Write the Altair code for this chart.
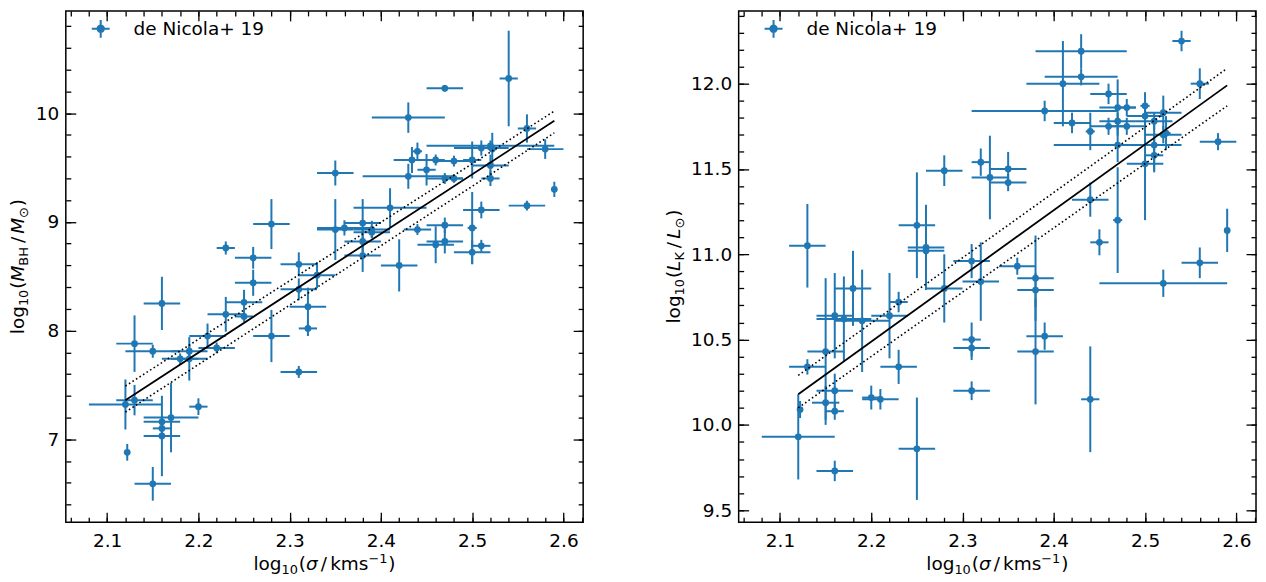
import altair as alt
import pandas as pd

BLUE = "#1f77b4"
FONT = "DejaVu Sans"
FS = 18.5
LABEL = "de Nicola+ 19"

# ---------------- data: left panel (log sigma, log M_BH) ----------------
l_x = [2.23, 2.28, 2.26, 2.31, 2.54, 2.47, 2.43, 2.56, 2.58, 2.44, 2.51, 2.52, 2.522, 2.434, 2.46,
       2.48, 2.50, 2.45, 2.52, 2.35, 2.43, 2.47, 2.48, 2.52, 2.59, 2.56, 2.51, 2.41, 2.38, 2.39,
       2.36, 2.35, 2.39, 2.44, 2.47, 2.50, 2.38, 2.47, 2.46, 2.51, 2.50, 2.38, 2.42, 2.33, 2.31,
       2.32, 2.32, 2.31, 2.28, 2.26, 2.25, 2.25, 2.23, 2.21, 2.22, 2.19, 2.18, 2.19, 2.15, 2.13,
       2.16, 2.12, 2.13, 2.20, 2.17, 2.16, 2.16, 2.16, 2.122, 2.15]
l_xerr = [0.01, 0.02, 0.02, 0.02, 0.01, 0.02, 0.04, 0.01, 0.02, 0.005, 0.03, 0.07, 0.005, 0.02, 0.01,
          0.02, 0.01, 0.01, 0.02, 0.02, 0.05, 0.02, 0.01, 0.01, 0.003, 0.02, 0.02, 0.04, 0.02, 0.02,
          0.03, 0.02, 0.02, 0.015, 0.02, 0.005, 0.02, 0.02, 0.02, 0.01, 0.02, 0.02, 0.02, 0.02, 0.02,
          0.02, 0.01, 0.02, 0.02, 0.02, 0.02, 0.01, 0.02, 0.02, 0.02, 0.02, 0.02, 0.02, 0.03, 0.02,
          0.02, 0.04, 0.02, 0.01, 0.03, 0.02, 0.01, 0.02, 0.0, 0.02]
l_y = [8.76, 8.98, 8.67, 8.61, 10.32, 10.23, 9.96, 9.86, 9.67, 9.65, 9.68, 9.70, 9.67, 9.57, 9.57,
       9.56, 9.57, 9.48, 9.52, 9.45, 9.42, 9.40, 9.40, 9.40, 9.30, 9.15, 9.11, 9.13, 8.99, 8.93,
       8.945, 8.93, 8.905, 8.93, 8.97, 8.945, 8.82, 8.82, 8.79, 8.78, 8.72, 8.69, 8.60, 8.51, 8.38,
       8.22, 8.02, 7.62, 7.95, 8.44, 8.26, 8.13, 8.15, 7.95, 7.84, 7.81, 7.74, 7.74, 7.81, 7.88,
       8.25, 7.32, 7.36, 7.30, 7.20, 7.16, 7.10, 7.03, 6.88, 6.59]
l_yerr = [0.06, 0.23, 0.10, 0.11, 0.44, 0.03, 0.14, 0.13, 0.09, 0.08, 0.07, 0.05, 0.15, 0.12, 0.05,
          0.05, 0.17, 0.145, 0.10, 0.115, 0.115, 0.05, 0.04, 0.07, 0.07, 0.045, 0.077, 0.18, 0.22, 0.08,
          0.07, 0.28, 0.05, 0.05, 0.07, 0.33, 0.10, 0.11, 0.17, 0.055, 0.11, 0.15, 0.24, 0.12, 0.10,
          0.175, 0.07, 0.055, 0.24, 0.12, 0.115, 0.05, 0.16, 0.115, 0.05, 0.06, 0.05, 0.20, 0.06, 0.26,
          0.245, 0.23, 0.14, 0.077, 0.32, 0.05, 0.05, 0.37, 0.077, 0.155]

# ---------------- data: right panel (log sigma, log L_K) ----------------
r_x = [2.13, 2.25, 2.26, 2.26, 2.28, 2.32, 2.33, 2.31, 2.54, 2.43, 2.43, 2.41, 2.56, 2.46, 2.39,
       2.47, 2.48, 2.50, 2.50, 2.52, 2.42, 2.47, 2.51, 2.44, 2.46, 2.48, 2.52, 2.523, 2.58, 2.47,
       2.51, 2.51, 2.50, 2.35, 2.35, 2.44, 2.47, 2.45, 2.59, 2.56, 2.36, 2.18, 2.16, 2.17, 2.19,
       2.22, 2.23, 2.15, 2.13, 2.23, 2.28, 2.31, 2.31, 2.32, 2.31, 2.16, 2.15, 2.16, 2.122, 2.12,
       2.20, 2.21, 2.25, 2.16, 2.38, 2.38, 2.39, 2.38, 2.44, 2.52]
r_xerr = [0.02, 0.02, 0.02, 0.02, 0.02, 0.01, 0.02, 0.02, 0.01, 0.05, 0.04, 0.04, 0.01, 0.02, 0.08,
          0.02, 0.01, 0.005, 0.02, 0.02, 0.02, 0.02, 0.02, 0.005, 0.02, 0.02, 0.02, 0.005, 0.02, 0.07,
          0.02, 0.01, 0.02, 0.02, 0.02, 0.02, 0.005, 0.01, 0.003, 0.02, 0.02, 0.02, 0.02, 0.03, 0.03,
          0.02, 0.01, 0.02, 0.02, 0.02, 0.02, 0.01, 0.02, 0.02, 0.02, 0.02, 0.015, 0.01, 0.0, 0.04,
          0.01, 0.02, 0.02, 0.02, 0.02, 0.02, 0.02, 0.02, 0.01, 0.07]
r_y = [11.05, 11.17, 11.04, 11.02, 11.49, 11.54, 11.45, 10.96, 12.25, 12.19, 12.04, 12.00, 12.00, 11.94, 11.84,
       11.86, 11.86, 11.87, 11.81, 11.83, 11.77, 11.78, 11.78, 11.72, 11.75, 11.75, 11.70, 11.71, 11.66, 11.64,
       11.64, 11.58, 11.53, 11.50, 11.42, 11.32, 11.20, 11.07, 11.14, 10.95, 10.93, 10.80, 10.64, 10.62, 10.61,
       10.64, 10.72, 10.43, 10.34, 10.34, 10.80, 10.50, 10.45, 10.84, 10.20, 10.20, 10.13, 10.08, 10.09, 9.93,
       10.16, 10.15, 9.86, 9.73, 10.86, 10.79, 10.52, 10.43, 10.15, 10.83]
r_yerr = [0.245, 0.31, 0.25, 0.05, 0.09, 0.08, 0.245, 0.10, 0.06, 0.10, 0.05, 0.25, 0.09, 0.06, 0.06,
          0.165, 0.05, 0.08, 0.05, 0.10, 0.06, 0.05, 0.05, 0.11, 0.05, 0.05, 0.05, 0.10, 0.05, 0.10,
          0.15, 0.10, 0.33, 0.10, 0.05, 0.10, 0.31, 0.076, 0.127, 0.09, 0.05, 0.22, 0.25, 0.25, 0.30,
          0.25, 0.06, 0.43, 0.045, 0.10, 0.20, 0.10, 0.07, 0.23, 0.055, 0.10, 0.10, 0.05, 0.05, 0.25,
          0.07, 0.06, 0.30, 0.06, 0.25, 0.10, 0.08, 0.31, 0.31, 0.08]

# ---------------- best-fit relations ----------------
fit_x = [2.12, 2.59]
l_fit = [7.36, 9.93]
l_fit_hi = [7.49, 10.02]
l_fit_lo = [7.25, 9.82]
r_fit = [10.18, 11.99]
r_fit_hi = [10.29, 12.09]
r_fit_lo = [10.10, 11.87]

# ---------------- axes ----------------
X_DOMAIN = [2.0547, 2.6216]
X_MAJOR = [2.1, 2.2, 2.3, 2.4, 2.5, 2.6]
X_MINOR = [round(2.06 + 0.02 * i, 2) for i in range(29)]
L_DOMAIN = [6.236, 10.942]
L_MAJOR = [7, 8, 9, 10]
L_MINOR = [round(6.4 + 0.2 * i, 1) for i in range(23)]
R_DOMAIN = [9.4291, 12.4265]
R_MAJOR = [9.5, 10.0, 10.5, 11.0, 11.5, 12.0]
R_MINOR = [round(9.5 + 0.1 * i, 1) for i in range(30)]

W, H = 519, 513
MAJ, MIN = 10, 5

GLYPH = {'l': 569, 'o': 1253, 'g': 1300, '1': 1303, '0': 1303, '(': 799, ')': 799, 'M': 1767,
         'B': 1405, 'H': 1540, '/': 690, '⊙': 1716, 'L': 1141, 'K': 1343, 'σ': 1300, 'k': 1186,
         'm': 1995, 's': 1067, '−': 1716, ' ': 651}


def tw(s, fs):
    return sum(GLYPH[c] for c in s) / 2048 * fs


def axis(orient, values, size, labels=False, fmt=None):
    kw = dict(orient=orient, values=values, tickSize=size, offset=-size, tickColor="black",
              tickWidth=1.3, domain=False, grid=False, labels=labels, title=None)
    if labels:
        kw.update(labelFont=FONT, labelFontSize=FS, labelColor="black",
                  labelPadding=9 if orient == "bottom" else 7, format=fmt)
    return alt.Axis(**kw)


def title_pieces(spec, vertical, base, center):
    """spec: list of (text, kind) where kind is n / i / sub / sup / gap."""
    rows, pos = [], 0.0
    sfs = FS * 0.7
    for txt, kind in spec:
        if kind == "gap":
            pos += txt
            continue
        fs = sfs if kind in ("sub", "sup") else FS
        shift = 4.0 if kind == "sub" else (-7.5 if kind == "sup" else 0.0)
        rows.append(dict(t=txt, along=pos, shift=shift, fs=fs, it=(kind == "i")))
        pos += tw(txt, fs) + (0.9 if kind in ("sub", "sup") else 0.0)
    total = pos
    for r in rows:
        if vertical:
            r["px"] = base + r["shift"]
            r["py"] = center + total / 2 - r["along"]
        else:
            r["px"] = center - total / 2 + r["along"]
            r["py"] = base + r["shift"]
    return pd.DataFrame(rows)


def text_layers(df, angle):
    out = []
    for it in (False, True):
        sub = df[df["it"] == it]
        if len(sub) == 0:
            continue
        out.append(alt.Chart(sub).mark_text(align="left", baseline="alphabetic", font=FONT,
                                            color="black", angle=angle,
                                            fontStyle="italic" if it else "normal").encode(
            x=alt.X("px:Q", scale=None, axis=None),
            y=alt.Y("py:Q", scale=None, axis=None),
            size=alt.Size("fs:Q", scale=None, legend=None),
            text="t:N"))
    return out


LEGEND_PATH = ("M-1,0H1M0,-1V1M0.36,0A0.36,0.36,0,1,1,-0.36,0"
               "A0.36,0.36,0,1,1,0.36,0Z")

X_SPEC = [("log", "n"), ("10", "sub"), ("(", "n"), ("σ", "i"), (3.1, "gap"), ("/", "n"),
          (3.1, "gap"), ("kms", "n"), ("−1", "sup"), (")", "n")]
L_SPEC = [("log", "n"), ("10", "sub"), ("(", "n"), ("M", "i"), ("BH", "sub"), (3.1, "gap"),
          ("/", "n"), (3.1, "gap"), ("M", "i"), ("⊙", "sub"), (")", "n")]
R_SPEC = [("log", "n"), ("10", "sub"), ("(", "n"), ("L", "i"), ("K", "sub"), (3.1, "gap"),
          ("/", "n"), (3.1, "gap"), ("L", "i"), ("⊙", "sub"), (")", "n")]


def panel(x, xerr, y, yerr, fit, hi, lo, ydom, ymaj, ymin, yfmt, yspec, ytitle_x):
    df = pd.DataFrame({"x": x, "xerr": xerr, "y": y, "yerr": yerr})
    df["x0"] = df["x"] - df["xerr"]
    df["x1"] = df["x"] + df["xerr"]
    df["y0"] = df["y"] - df["yerr"]
    df["y1"] = df["y"] + df["yerr"]
    df["lab"] = LABEL
    fdf = pd.DataFrame({"x": fit_x, "fit": fit, "hi": hi, "lo": lo})

    xs = alt.Scale(domain=X_DOMAIN, nice=False, zero=False)
    ys = alt.Scale(domain=ydom, nice=False, zero=False)

    hbar = alt.Chart(df).mark_rule(color=BLUE, strokeWidth=2).encode(
        x=alt.X("x0:Q", scale=xs, axis=axis("bottom", X_MAJOR, MAJ, True, ".1f")),
        x2="x1:Q",
        y=alt.Y("y:Q", scale=ys, axis=axis("left", ymaj, MAJ, True, yfmt)))
    vbar = alt.Chart(df).mark_rule(color=BLUE, strokeWidth=2).encode(
        x=alt.X("x:Q", scale=xs, axis=axis("bottom", X_MINOR, MIN)),
        y=alt.Y("y0:Q", scale=ys, axis=axis("left", ymin, MIN)),
        y2="y1:Q")
    pts = alt.Chart(df).mark_circle(size=46, opacity=1).encode(
        x=alt.X("x:Q", scale=xs, axis=axis("top", X_MAJOR, MAJ)),
        y=alt.Y("y:Q", scale=ys, axis=axis("right", ymaj, MAJ)),
        color=alt.Color("lab:N", scale=alt.Scale(domain=[LABEL], range=[BLUE]),
                        legend=alt.Legend(orient="none", legendX=25, legendY=8, title=None,
                                          padding=0, symbolType=LEGEND_PATH, symbolSize=324,
                                          symbolFillColor=BLUE, symbolStrokeColor=BLUE,
                                          symbolStrokeWidth=2, labelFont=FONT, labelFontSize=FS,
                                          labelColor="black", labelOffset=23)))
    solid = alt.Chart(fdf).mark_line(color="black", strokeWidth=1.8).encode(
        x=alt.X("x:Q", scale=xs, axis=axis("top", X_MINOR, MIN)),
        y=alt.Y("fit:Q", scale=ys, axis=axis("right", ymin, MIN)))
    dot_hi = alt.Chart(fdf).mark_line(color="black", strokeWidth=1.6, strokeDash=[1.6, 2.6]).encode(
        x=alt.X("x:Q", scale=xs, axis=None), y=alt.Y("hi:Q", scale=ys, axis=None))
    dot_lo = alt.Chart(fdf).mark_line(color="black", strokeWidth=1.6, strokeDash=[1.6, 2.6]).encode(
        x=alt.X("x:Q", scale=xs, axis=None), y=alt.Y("lo:Q", scale=ys, axis=None))

    xt = title_pieces(X_SPEC, False, H + 48, W / 2)
    yt = title_pieces(yspec, True, ytitle_x, H / 2)
    layers = [hbar, vbar, pts, solid, dot_hi, dot_lo] + text_layers(xt, 0) + text_layers(yt, 270)
    return alt.layer(*layers).resolve_axis(x="independent", y="independent").properties(
        width=W, height=H)


left = panel(l_x, l_xerr, l_y, l_yerr, l_fit, l_fit_hi, l_fit_lo, L_DOMAIN, L_MAJOR, L_MINOR,
             "d", L_SPEC, -42)
right = panel(r_x, r_xerr, r_y, r_yerr, r_fit, r_fit_hi, r_fit_lo, R_DOMAIN, R_MAJOR, R_MINOR,
              ".1f", R_SPEC, -59)

chart = alt.hconcat(left, right, spacing=156, bounds="flush").resolve_scale(
    color="independent").properties(padding=0).configure_view(stroke="black", strokeWidth=1.5)

chart.save("out.html", embed_options={"renderer": "svg", "actions": False})
